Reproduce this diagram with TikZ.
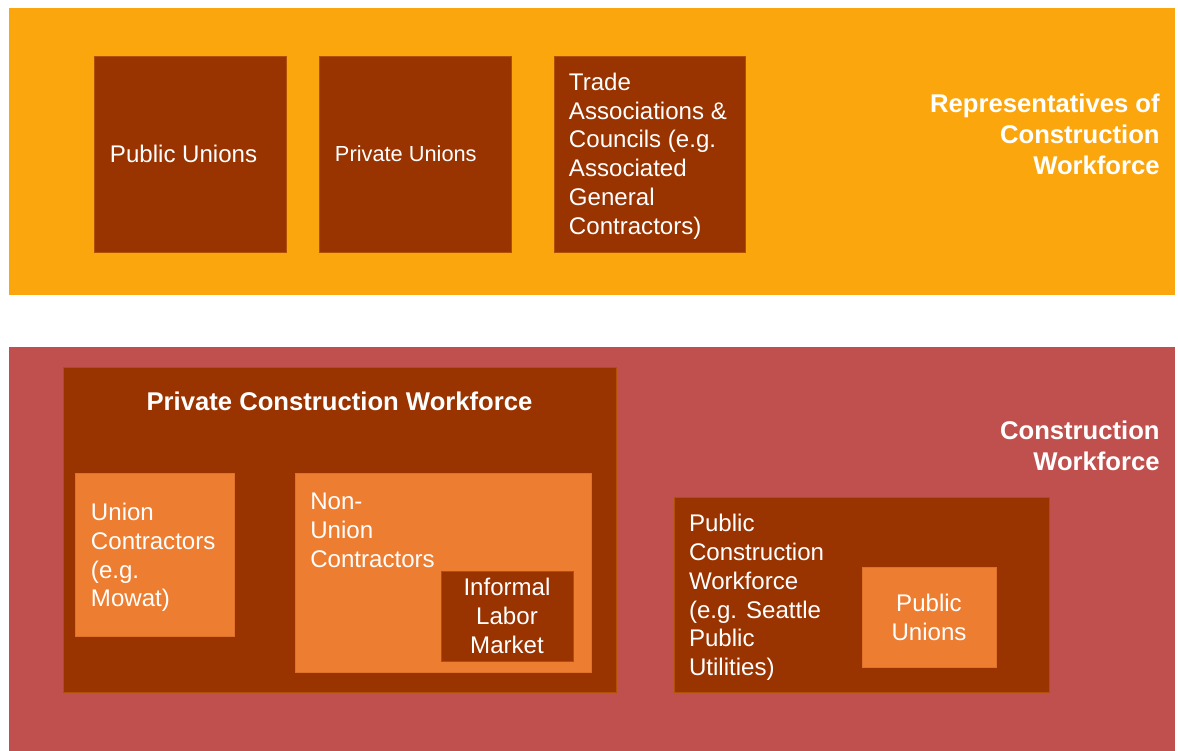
\documentclass[tikz,border=0pt]{standalone}
\usepackage{fontspec}
\setmainfont{Liberation Sans}
\usetikzlibrary{positioning, fit}
\definecolor{repsorange}{RGB}{252,166,14}
\definecolor{workred}{RGB}{192,80,77}
\definecolor{darkbrown}{RGB}{153,51,0}
\definecolor{lightorange}{RGB}{237,125,49}

\begin{document}
\begin{tikzpicture}[
    x=0.02cm, y=-0.02cm,
    every node/.style={text=white, font=\fontsize{13.7}{16.4}\selectfont},
    band/.style={rectangle, inner sep=0pt, draw=none},
    repband/.style={band, fill=repsorange},
    workband/.style={band, fill=workred},
    darkbox/.style={rectangle, inner sep=0pt, fill=darkbrown,
      draw=darkbrown!75!repsorange, line width=0.4pt},
    litebox/.style={rectangle, inner sep=0pt, fill=lightorange,
      draw=lightorange!85!darkbrown, line width=0.4pt},
    txt/.style={inner sep=0pt, align=left},
    ctxt/.style={inner sep=0pt, align=center},
    sidetxt/.style={inner sep=0pt, align=right,
      font=\fontsize{14.6}{17.6}\selectfont\bfseries}
  ]
  \useasboundingbox (0,0) rectangle (1178,751);

  % representatives band
  \node[repband, fit={(9,8) (1175,295)}] (reps) {};
  \node[darkbox, fit={(94,56) (286,252)}] (pubunion) {};
  \node[darkbox, fit={(319,56) (511,252)}] (privunion) {};
  \node[darkbox, fit={(554,56) (745,252)}] (trade) {};
  \node[txt, right=0.32cm of pubunion.west] (pubuniontxt) {Public Unions};
  \node[txt, right=0.32cm of privunion.west,
    font=\fontsize{12.4}{15}\selectfont] (privuniontxt) {Private Unions};
  \node[txt, right=0.30cm of trade.west, yshift=-0.04cm] (tradetxt)
    {Trade\\Associations \&\\Councils (e.g.\\Associated\\General\\Contractors)};
  \node[sidetxt, anchor=east] (repslabel) at (1160,134)
    {Representatives of\\Construction\\Workforce};

  % construction workforce band
  \node[workband, fit={(9,347) (1175,751)}] (work) {};
  \node[darkbox, fit={(63,367) (616,692)}] (privwork) {};
  \node[sidetxt, align=center, below=0.50cm of privwork.north] (privworktxt)
    {Private Construction Workforce};
  \node[litebox, fit={(75,473) (234,636)}] (unioncon) {};
  \node[txt, right=0.32cm of unioncon.west, yshift=-0.06cm] (unionconttxt)
    {Union\\Contractors\\(e.g.\\Mowat)};
  \node[litebox, fit={(295,473) (591,672)}] (nonunion) {};
  \node[txt, anchor=north west] (nonuniontxt) at (310,493)
    {Non-\\Union\\Contractors};
  \node[darkbox, fit={(441,571) (573,661)}] (informal) {};
  \node[ctxt] (informaltxt) at (informal.center) {Informal\\Labor\\Market};

  \node[darkbox, fit={(674,497) (1049,692)}] (pubwork) {};
  \node[txt, right=0.30cm of pubwork.west, yshift=-0.06cm] (pubworktxt)
    {Public\\Construction\\Workforce\\(e.g. Seattle\\Public\\Utilities)};
  \node[litebox, fit={(862,567) (996,667)}] (pubunion2) {};
  \node[ctxt] (pubunion2txt) at (pubunion2.center) {Public\\Unions};
  \node[sidetxt, anchor=east] (worklabel) at (1160,446)
    {Construction\\Workforce};
\end{tikzpicture}
\end{document}
